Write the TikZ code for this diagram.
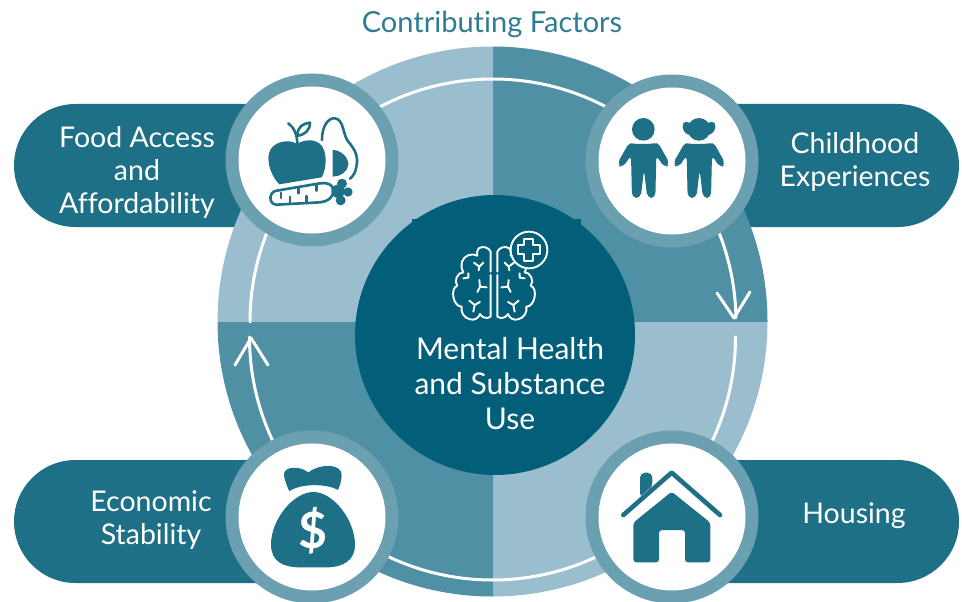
\documentclass[tikz,border=0pt]{standalone}
\usepackage{fontspec}
\setmainfont{Lato}[Ligatures=NoCommon]
\definecolor{pill}{HTML}{1E7087}
\definecolor{core}{HTML}{035F79}
\definecolor{lite}{HTML}{9BBECE}
\definecolor{midc}{HTML}{5090A5}
\definecolor{ringc}{HTML}{6BA0B1}
\definecolor{titlec}{HTML}{2F7C92}
\tikzset{
  pillbox/.style={fill=pill,rounded corners=61.5pt},
  badgeouter/.style={circle,fill=ringc,minimum size=173pt,inner sep=0pt},
  badgeinner/.style={circle,fill=white,minimum size=147pt,inner sep=0pt},
  pilltext/.style={text=white,font=\fontsize{28.5}{33}\selectfont,align=center},
  icon/.style={fill=pill,draw=none},
  iconline/.style={draw=pill,line width=2.6pt,line cap=round,line join=round},
  brainline/.style={draw=white,line width=1.9pt,line cap=round,line join=round},
  ringline/.style={draw=white,line width=3pt,line cap=round,line join=round},
}
\newcommand{\kidbody}{%
  \fill[icon,rounded corners=5pt] (150,214) .. controls (165,222) and (215,222) .. (232,214)
    -- (270,282) -- (254,294) -- (229,256) -- (226,384) -- (202,384) -- (192,300)
    -- (182,384) -- (156,384) -- (153,256) -- (127,294) -- (111,282) -- cycle;
}
\newcommand{\halfbrain}{%
  \draw[brainline] (272,245) -- (272,185) to[bend right=50] (236,175) to[bend right=25] (232,197)
    to[bend right=50] (186,215) to[bend right=20] (190,247)
    to[bend right=70] (172,287) to[bend right=80] (185,350)
    to[bend right=45] (210,388) to[bend right=45] (240,372) to[bend right=50] (272,380) -- (272,255);
  \draw[brainline] (222,218) -- (238,230) -- (250,218) (238,230) -- (236,241);
  \draw[brainline] (190,265) -- (205,263) -- (205,250);
  \draw[brainline] (232,306) -- (240,290) -- (260,292) (240,290) -- (238,270);
  \draw[brainline] (208,332) -- (224,345) -- (240,336) (224,345) -- (220,365);
}
\begin{document}
\begin{tikzpicture}[x=1pt,y=-1pt]
\useasboundingbox (0,0) rectangle (962,602);
\fill[white] (0,0) rectangle (962,602);
\node[text=titlec,font=\fontsize{29}{32}\selectfont] (title) at (492,24) {Contributing Factors};
% pills
\fill[pillbox] (14,104) rectangle (330,227);
\fill[pillbox] (640,104) rectangle (959,227);
\fill[pillbox] (14,460) rectangle (330,583);
\fill[pillbox] (640,460) rectangle (959,583);
% big disc
\begin{scope}
\clip (492.5,321.5) circle (275);
\fill[lite] (200,30) rectangle (492.5,322);
\fill[midc] (492.5,30) rectangle (790,322);
\fill[lite] (492.5,322) rectangle (790,610);
\fill[midc] (200,322) rectangle (492.5,610);
\end{scope}
% white flow line with its two arrowheads
\coordinate (ua) at (250,322);
\coordinate (ub) at (734,318);
\coordinate (la) at (735.5,337);
\coordinate (lb) at (251,338);
\draw[ringline] (ua) arc (180:359:243);
\draw[ringline] (la) arc (0:180:243);
\draw[ringline] (717,293) -- (ub) -- (750,292);
\draw[ringline] (235,365) -- (lb) -- (268,365);
% core
\fill[core] (412,219) rectangle (581,240);
\node[circle,fill=core,minimum size=280pt,inner sep=0pt] (core) at (495,335) {};
% badges
\node[badgeouter] (b1) at (312,160) {};
\node[badgeinner] (w1) at (b1) {};
\node[badgeouter] (b2) at (672,161) {};
\node[badgeinner] (w2) at (b2) {};
\node[badgeouter] (b3) at (312,517) {};
\node[badgeinner] (w3) at (b3) {};
\node[badgeouter] (b4) at (672,517) {};
\node[badgeinner] (w4) at (b4) {};
% food icon
\begin{scope}[shift={(220,70)},scale=1/3]
\fill[icon] (232,222) .. controls (255,205) and (300,205) .. (312,240)
  .. controls (322,270) and (315,305) .. (305,322)
  -- (178,343) .. controls (155,320) and (140,280) .. (147,250)
  .. controls (155,215) and (205,205) .. (232,222) -- cycle;
\draw[iconline] (205,160) .. controls (222,172) and (232,195) .. (232,222);
\draw[iconline] (232,197) .. controls (232,170) and (250,160) .. (270,158)
  .. controls (270,180) and (255,195) .. (232,197);
\draw[iconline] (306,210) .. controls (305,170) and (325,142) .. (345,145)
  .. controls (372,148) and (368,195) .. (385,215)
  .. controls (405,238) and (415,260) .. (410,285)
  .. controls (408,305) and (400,318) .. (390,326);
\fill[icon] (338,240) .. controls (365,240) and (387,265) .. (385,285)
  .. controls (383,305) and (360,320) .. (338,320) -- cycle;
\draw[iconline] (170,362) -- (300,340) .. controls (320,337) and (340,342) .. (340,362)
  .. controls (340,385) and (320,395) .. (300,397) -- (170,404)
  .. controls (145,404) and (145,365) .. (170,362) -- cycle;
\draw[iconline] (183,368) -- (183,384) (210,380) -- (210,401) (235,354) -- (235,370)
  (260,378) -- (260,399) (290,344) -- (290,362);
\fill[icon] (354,364) circle (20) (366,341) circle (15) (384,366) circle (14) (362,391) circle (15);
\end{scope}
% children icon
\begin{scope}[shift={(580,70)},scale=1/3]
\fill[icon] (190,178) circle (34);
\kidbody
\begin{scope}[shift={(167,0)}]\kidbody\end{scope}
\fill[icon] (357,178) circle (34);
\fill[icon] (338,165) .. controls (322,150) and (306,153) .. (308,172)
  .. controls (310,186) and (322,196) .. (333,195) -- cycle;
\fill[icon] (376,165) .. controls (392,150) and (408,153) .. (406,172)
  .. controls (404,186) and (392,196) .. (381,195) -- cycle;
\end{scope}
% money bag icon
\begin{scope}[shift={(220,430)},scale=1/3]
\fill[icon] (192,135) .. controls (190,110) and (235,105) .. (265,127)
  .. controls (300,100) and (365,100) .. (365,135)
  .. controls (365,155) and (358,170) .. (354,180)
  .. controls (320,160) and (240,160) .. (208,184)
  .. controls (202,170) and (193,150) .. (192,135) -- cycle;
\fill[icon] (280,186) .. controls (220,186) and (152,270) .. (153,345)
  .. controls (154,395) and (190,412) .. (240,412)
  -- (320,412) .. controls (370,412) and (405,390) .. (405,345)
  .. controls (405,270) and (340,186) .. (280,186) -- cycle;
\end{scope}
\node[text=white,font=\fontsize{50}{50}\selectfont\bfseries,inner sep=0pt] (dollar) at (313,531) {\$};
% house icon
\begin{scope}[shift={(580,430)},scale=1/3]
\fill[icon,rounded corners=5pt] (180,205) -- (180,128) -- (217,128) -- (217,172) -- cycle;
\draw[draw=white,line width=5pt] (130,255) -- (275,128) -- (420,255);
\draw[draw=pill,line width=4.6pt,line cap=round,line join=round] (130,255) -- (275,128) -- (420,255);
\fill[icon,rounded corners=3pt] (160,278) -- (275,185) -- (391,278) -- (391,397) -- (315,397)
  -- (315,300) -- (237,300) -- (237,397) -- (160,397) -- cycle;
\end{scope}
% brain icon
\begin{scope}[shift={(400,190)},scale=1/3]
\halfbrain
\begin{scope}[shift={(564,0)},xscale=-1]\halfbrain\end{scope}
\fill[core] (387,180) circle (55);
\draw[brainline] (387,180) circle (55);
\draw[brainline] (373,146) -- (399,146) -- (399,166) -- (419,166) -- (419,192) -- (399,192)
  -- (399,212) -- (373,212) -- (373,192) -- (353,192) -- (353,166) -- (373,166) -- cycle;
\end{scope}
% texts
\node[pilltext] (t1) at (137,172) {Food Access\\and\\Affordability};
\node[pilltext] (t2) at (855,162) {Childhood\\Experiences};
\node[pilltext] (t3) at (151,520) {Economic\\Stability};
\node[pilltext] (t4) at (854,516) {Housing};
\node[text=white,font=\fontsize{30}{35}\selectfont,align=center] (t5) at (510,383.5) {Mental Health\\and Substance\\Use};
\end{tikzpicture}
\end{document}
